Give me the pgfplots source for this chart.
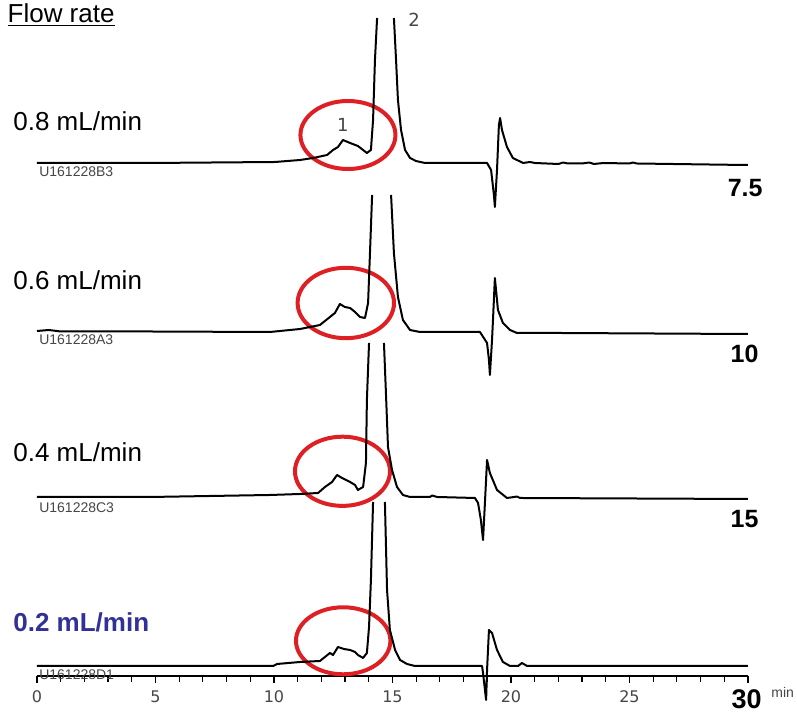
\documentclass[border=0pt]{standalone}
\usepackage{pgfplots}
\pgfplotsset{compat=1.18}
\usepackage{fontspec}
\setmainfont{Liberation Sans}
\newfontfamily\dejavu{DejaVu Sans}
\definecolor{circred}{RGB}{222,32,36}
\definecolor{flowblue}{RGB}{50,50,150}
\definecolor{idgray}{RGB}{70,70,70}
\pgfplotsset{tr/.style={black, solid, line width=1pt, mark=none, line join=round}}
\begin{document}
\begin{tikzpicture}
\begin{axis}[
  scale only axis, width=355.5pt, height=338pt,
  xmin=0, xmax=30, ymin=0, ymax=676,
  enlargelimits=false, clip=false,
  axis x line=bottom, axis y line=none,
  x axis line style={-, line width=0.75pt},
  xtick={0,5,10,15,20,25,30},
  xticklabels={0,5,10,15,20,25,{}},
  minor xtick={1,2,3,4,6,7,8,9,11,12,13,14,16,17,18,19,21,22,23,24,26,27,28,29},
  tick align=outside,
  major tick length=3.5pt, minor tick length=3pt,
  tick style={black, line width=0.6pt},
  xticklabel style={font=\dejavu\fontsize{8}{9}\selectfont, text=idgray, yshift=-0.5pt},
]
% red circles around peak 1
\draw[circred, line width=2pt] (axis cs:13.12,541) ellipse [x radius=23.75pt, y radius=17pt];
\draw[circred, line width=2pt] (axis cs:13.03,373) ellipse [x radius=24.1pt, y radius=17.6pt];
\draw[circred, line width=2pt] (axis cs:12.89,204.7) ellipse [x radius=23.75pt, y radius=17.3pt];
\draw[circred, line width=2pt] (axis cs:12.92,35.2) ellipse [x radius=23.6pt, y radius=16.75pt];

% ---- trace 1: 0.8 mL/min ----
\addplot[tr] coordinates {(0,513) (4.77,513) (10.04,514) (11.10,516) (11.65,518) (12.24,521) (12.49,526) (12.70,529) (12.91,536) (13.21,533) (13.54,530) (13.76,526) (13.92,523) (14.09,526) (14.18,556) (14.26,616) (14.35,658)};
\addplot[tr] coordinates {(15.06,658) (15.15,616) (15.23,576) (15.36,546) (15.53,526) (15.74,518) (15.99,515) (16.37,513) (18.99,513) (19.16,506) (19.28,481) (19.32,469) (19.41,506) (19.49,551) (19.54,558) (19.62,546) (19.83,529) (20.08,518) (20.51,513) (20.80,514) (21.01,513) (22.00,512) (22.20,513.5) (22.40,512.5) (23.00,512.5) (23.30,513.5) (23.50,512) (23.90,513) (25.00,512.5) (25.15,513.5) (25.30,512.5) (29.87,511) (30,511)};

% ---- trace 2: 0.6 mL/min ----
\addplot[tr] coordinates {(0,345) (0.5,346) (1.0,344.5) (4.77,344.5) (9.83,344) (11.10,347) (11.94,351) (12.36,359) (12.57,363) (12.78,372) (12.99,369) (13.21,368) (13.42,364) (13.63,359) (13.84,358) (13.97,373) (14.05,423) (14.14,481)};
\addplot[tr] coordinates {(14.94,481) (15.06,423) (15.23,379) (15.44,356) (15.74,346) (16.16,344) (18.69,344) (18.99,333) (19.07,316) (19.11,301) (19.20,336) (19.24,356) (19.32,398) (19.45,366) (19.66,353) (19.96,346) (20.25,343) (22.07,343) (29.87,342) (30,342)};

% ---- trace 3: 0.4 mL/min ----
\addplot[tr] coordinates {(0,179) (4.77,179) (9.83,181) (11.10,182) (11.86,183) (12.15,189) (12.45,194) (12.66,201) (12.87,198) (13.21,194) (13.42,191) (13.54,186) (13.76,189) (13.88,213) (13.92,276) (14.01,333)};
\addplot[tr] coordinates {(14.64,333) (14.73,279) (14.81,229) (14.98,206) (15.19,189) (15.44,181) (15.74,179) (16.58,179) (16.67,180.5) (16.88,179) (18.48,178) (18.61,173) (18.73,156) (18.82,136) (18.90,173) (18.99,216) (19.11,203) (19.41,186) (19.83,178) (20.13,179) (20.25,179.5) (20.38,178) (30,177)};

% ---- trace 4: 0.2 mL/min ----
\addplot[tr] coordinates {(0,10) (9.96,10) (10.13,12) (11.10,14) (11.94,15) (12.15,19) (12.36,23) (12.49,21) (12.70,29) (12.95,27) (13.21,26) (13.42,24) (13.54,21) (13.76,18) (13.92,23) (14.01,49) (14.09,96) (14.18,174)};
\addplot[tr] coordinates {(14.68,174) (14.77,86) (14.89,46) (15.11,26) (15.32,16) (15.61,12) (15.95,10) (18.78,10) (18.82,3) (18.95,-24) (18.99,6) (19.07,46) (19.20,43) (19.41,26) (19.66,14) (19.96,10) (20.30,10) (20.46,13) (20.68,10) (30,10)};

% ---- labels ----
\node[anchor=base east, inner sep=0, font=\fontsize{13}{15}\selectfont] at (axis cs:3.29,653.3) {\underline{Flow rate}};
\node[anchor=base west, inner sep=0, font=\fontsize{13}{15}\selectfont] at (axis cs:-1.013,545) {0.8 mL/min};
\node[anchor=base west, inner sep=0, font=\fontsize{13}{15}\selectfont] at (axis cs:-1.013,386) {0.6 mL/min};
\node[anchor=base west, inner sep=0, font=\fontsize{13}{15}\selectfont] at (axis cs:-1.013,214.3) {0.4 mL/min};
\node[anchor=base west, inner sep=0, font=\bfseries\fontsize{13}{15}\selectfont, text=flowblue] at (axis cs:-1.013,44.3) {0.2 mL/min};

\node[anchor=base west, inner sep=0, font=\fontsize{7}{8}\selectfont, text=idgray] at (axis cs:0.08,499.3) {U161228B3};
\node[anchor=base west, inner sep=0, font=\fontsize{7}{8}\selectfont, text=idgray] at (axis cs:0.08,331.7) {U161228A3};
\node[anchor=base west, inner sep=0, font=\fontsize{7}{8}\selectfont, text=idgray] at (axis cs:0.08,163.3) {U161228C3};
\node[anchor=base west, inner sep=0, font=\fontsize{7}{8}\selectfont, text=idgray] at (axis cs:0.08,-4) {U161228D1};

\node[anchor=base east, inner sep=0, font=\bfseries\fontsize{12.5}{14}\selectfont] at (axis cs:30.63,479) {7.5};
\node[anchor=base east, inner sep=0, font=\bfseries\fontsize{12.5}{14}\selectfont] at (axis cs:30.46,313) {10};
\node[anchor=base east, inner sep=0, font=\bfseries\fontsize{12.5}{14}\selectfont] at (axis cs:30.46,148) {15};
\node[anchor=base east, inner sep=0, font=\bfseries\fontsize{13.5}{15}\selectfont] at (axis cs:30.59,-32.5) {30};
\node[anchor=base west, inner sep=0, font=\fontsize{7}{8}\selectfont, text=idgray] at (axis cs:30.97,-22) {min};

\node[font=\dejavu\fontsize{9}{10}\selectfont, text=idgray] at (axis cs:12.91,551) {1};
\node[font=\dejavu\fontsize{9}{10}\selectfont, text=idgray] at (axis cs:15.91,656) {2};

\coordinate (BBll) at (axis cs:-1.5612,-36);
\coordinate (BBur) at (axis cs:32.068,676);
\end{axis}
\pgfresetboundingbox
\path[use as bounding box] (BBll) rectangle (BBur);
\end{tikzpicture}
\end{document}
